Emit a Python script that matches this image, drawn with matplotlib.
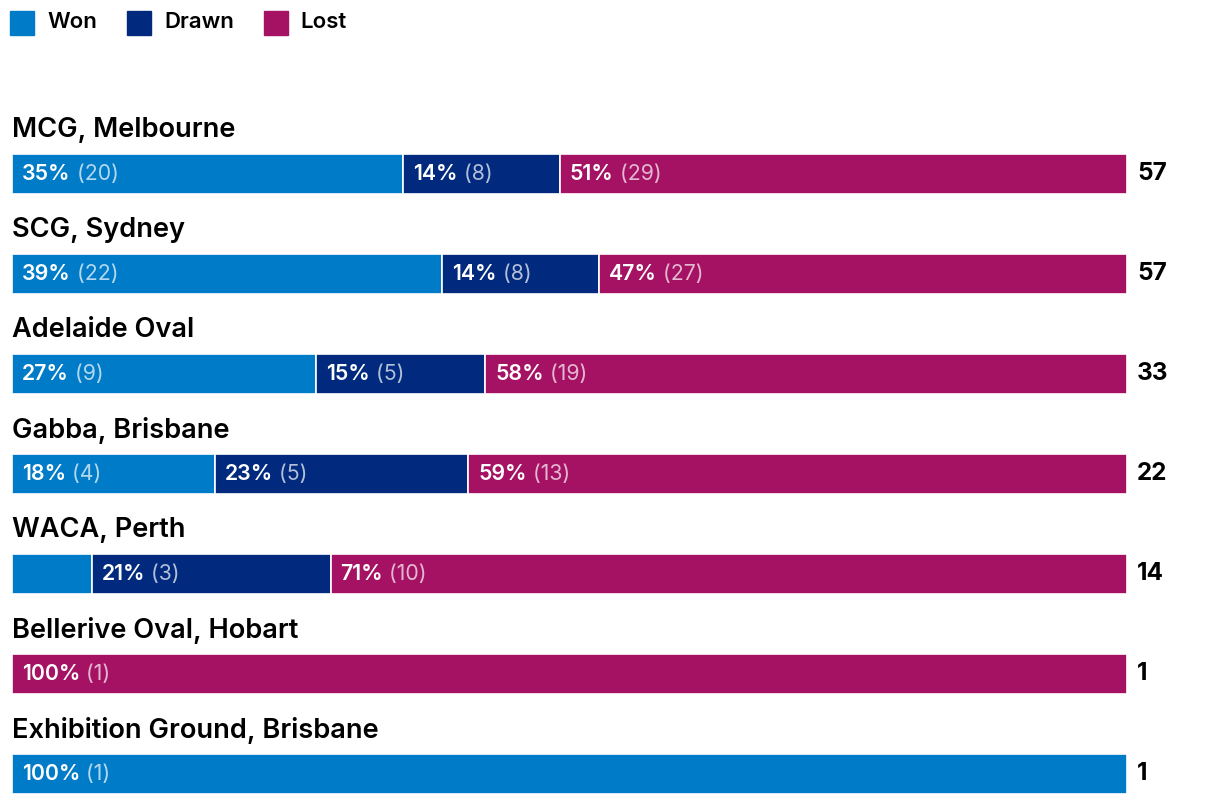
import numpy as np
import matplotlib
matplotlib.use('Agg')
import matplotlib.pyplot as plt
from matplotlib.patches import Rectangle

venues = ['MCG, Melbourne', 'SCG, Sydney', 'Adelaide Oval', 'Gabba, Brisbane',
          'WACA, Perth', 'Bellerive Oval, Hobart', 'Exhibition Ground, Brisbane']
won = [20, 22, 9, 4, 1, 0, 1]
drawn = [8, 8, 5, 5, 3, 0, 0]
lost = [29, 27, 19, 13, 10, 1, 0]

series = ['Won', 'Drawn', 'Lost']
colors = {'Won': '#007bc7', 'Drawn': '#012a7e', 'Lost': '#a51263'}

FONT = 'Inter'
W, H = 1220, 806
fig = plt.figure(figsize=(W / 100, H / 100), dpi=100)

# axes spans the bar extent horizontally, whole figure vertically
ax = fig.add_axes([12 / W, 0, 1115 / W, 1])
ax.set_xlim(0, 100)
# row i is centred at pixel 174 + 100*i from the top
ax.set_ylim((H - 174) / 100, -174 / 100)
ax.axis('off')

counts = np.array([won, drawn, lost], dtype=float)
totals = counts.sum(axis=0)
shares = counts / totals * 100

for i, venue in enumerate(venues):
    left = 0
    for k, name in enumerate(series):
        w = shares[k, i]
        if w <= 0:
            continue
        ax.barh(i, w, left=left, height=0.4, color=colors[name],
                edgecolor='white', linewidth=1.2)
        if w >= 10:
            t = ax.text(left + 0.9, i, f'{round(w)}%', color='white',
                        fontsize=15.3, fontweight='semibold', family=FONT,
                        va='center', ha='left')
            ax.annotate(f' ({int(counts[k, i])})', xy=(1, 0.5), xycoords=t,
                        va='center', ha='left', color='white', alpha=0.7,
                        fontsize=15.3, family=FONT)
        left += w
    ax.text(0, i - 0.44, venue, fontsize=19.6, fontweight='semibold',
            family=FONT, va='center', ha='left', color='black')
    ax.text(100.9, i, f'{int(totals[i])}', fontsize=17.5, fontweight='bold',
            family=FONT, va='center', ha='left', color='black')

# legend across the top
lx = 10
for name in series:
    fig.patches.append(Rectangle((lx / W, 1 - 35 / H), 24 / W, 24 / H,
                                 transform=fig.transFigure, color=colors[name]))
    t = fig.text((lx + 37) / W, 1 - 22 / H, name, fontsize=16,
                 fontweight='semibold', family=FONT, va='center', ha='left')
    fig.canvas.draw()
    bb = t.get_window_extent()
    lx = bb.x1 + 30

fig.savefig('out.png', dpi=100)
